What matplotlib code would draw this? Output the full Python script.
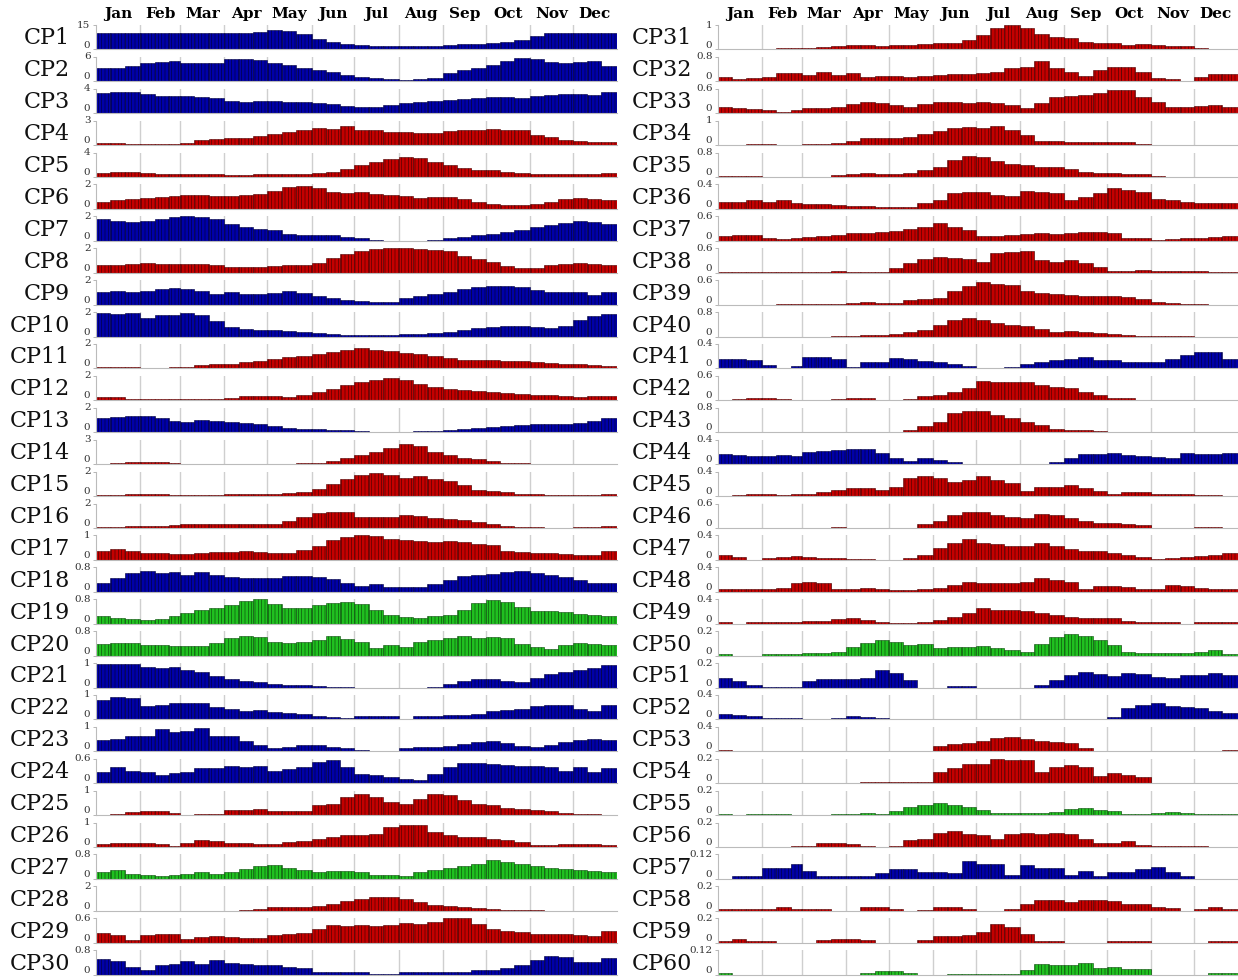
import numpy as np
import matplotlib
matplotlib.use("Agg")
import matplotlib.pyplot as plt

# three values per month (days 1-10, 11-20, 21-end)
months = ["Jan", "Feb", "Mar", "Apr", "May", "Jun", "Jul", "Aug", "Sep", "Oct", "Nov", "Dec"]
month_len = [31, 28, 31, 30, 31, 30, 31, 31, 30, 31, 30, 31]

cp01 = [10, 10, 10, 10, 10, 10, 10, 10, 10, 10, 10.2, 10.8, 12, 11.5, 9.5, 6.5, 4.5, 3.2, 2.5, 2.2, 2.0, 2.0, 2.1, 2.3, 2.8, 3.2, 3.6, 4.2, 4.8, 6, 8.5, 9.8, 10.2, 10.2, 10.1, 9.9]
cp02 = [3.2, 3.2, 3.7, 4.5, 4.8, 5.0, 4.6, 4.4, 4.6, 5.4, 5.6, 5.2, 4.6, 4.0, 3.4, 2.8, 2.2, 1.6, 1.1, 0.8, 0.6, 0.4, 0.5, 0.9, 2.0, 2.7, 3.3, 3.9, 5.0, 5.7, 5.5, 4.8, 4.6, 4.8, 4.9, 3.8]
cp03 = [3.3, 3.5, 3.4, 3.1, 2.9, 2.9, 2.8, 2.7, 2.5, 2.0, 1.8, 2.0, 2.0, 1.9, 1.9, 1.7, 1.5, 1.2, 1.0, 1.1, 1.3, 1.6, 1.8, 2.0, 2.2, 2.4, 2.5, 2.6, 2.6, 2.5, 2.9, 3.0, 3.1, 3.1, 3.0, 3.4]
cp04 = [0.3, 0.25, 0.2, 0.15, 0.15, 0.2, 0.3, 0.6, 0.75, 0.85, 0.9, 1.1, 1.4, 1.6, 1.9, 2.1, 2.0, 2.3, 1.8, 1.9, 1.6, 1.6, 1.5, 1.5, 1.7, 1.8, 1.9, 2.0, 1.9, 1.8, 1.3, 1.0, 0.6, 0.5, 0.45, 0.4]
cp05 = [0.7, 0.9, 0.8, 0.65, 0.55, 0.5, 0.5, 0.5, 0.45, 0.35, 0.4, 0.45, 0.5, 0.5, 0.5, 0.6, 0.9, 1.4, 1.9, 2.5, 3.0, 3.2, 3.1, 2.5, 1.9, 1.5, 1.2, 1.1, 0.9, 0.7, 0.5, 0.5, 0.5, 0.55, 0.55, 0.65]
cp06 = [0.6, 0.7, 0.8, 0.9, 0.95, 1.05, 1.15, 1.15, 1.1, 1.1, 1.15, 1.2, 1.5, 1.8, 1.85, 1.75, 1.4, 1.3, 1.35, 1.25, 1.15, 1.05, 0.9, 1.0, 1.0, 0.8, 0.6, 0.4, 0.35, 0.35, 0.4, 0.6, 0.8, 0.9, 0.85, 0.75]
cp07 = [1.75, 1.6, 1.55, 1.6, 1.8, 1.95, 2.0, 1.95, 1.75, 1.4, 1.15, 1.0, 0.9, 0.55, 0.45, 0.5, 0.5, 0.35, 0.2, 0.1, 0.03, 0.0, 0.02, 0.08, 0.2, 0.3, 0.45, 0.6, 0.75, 0.9, 1.1, 1.3, 1.45, 1.6, 1.55, 1.4]
cp08 = [0.6, 0.65, 0.75, 0.8, 0.7, 0.7, 0.75, 0.7, 0.6, 0.5, 0.45, 0.5, 0.55, 0.6, 0.6, 0.8, 1.2, 1.55, 1.8, 1.95, 2.0, 2.0, 1.95, 1.9, 1.8, 1.4, 1.1, 0.85, 0.55, 0.38, 0.4, 0.6, 0.75, 0.77, 0.75, 0.6]
cp09 = [1.0, 1.15, 1.05, 1.15, 1.3, 1.35, 1.25, 1.1, 0.9, 1.0, 0.85, 0.85, 0.95, 1.15, 0.95, 0.7, 0.55, 0.35, 0.3, 0.22, 0.2, 0.55, 0.75, 0.9, 1.05, 1.3, 1.45, 1.55, 1.55, 1.45, 1.2, 1.05, 1.0, 1.0, 0.8, 1.0]
cp10 = [1.95, 1.85, 1.9, 1.55, 1.75, 1.75, 1.95, 1.75, 1.3, 0.8, 0.65, 0.55, 0.5, 0.45, 0.4, 0.3, 0.2, 0.1, 0.12, 0.15, 0.17, 0.19, 0.22, 0.3, 0.4, 0.55, 0.7, 0.8, 0.9, 0.85, 0.75, 0.7, 0.9, 1.35, 1.7, 1.85]
cp11 = [0.15, 0.12, 0.1, 0.08, 0.08, 0.1, 0.14, 0.25, 0.35, 0.4, 0.5, 0.65, 0.8, 0.9, 1.0, 1.2, 1.35, 1.55, 1.65, 1.5, 1.4, 1.3, 1.2, 1.0, 0.85, 0.7, 0.68, 0.66, 0.63, 0.58, 0.5, 0.42, 0.38, 0.36, 0.3, 0.18]
cp12 = [0.3, 0.25, 0.15, 0.1, 0.1, 0.1, 0.1, 0.1, 0.12, 0.2, 0.35, 0.38, 0.38, 0.28, 0.45, 0.65, 0.95, 1.25, 1.5, 1.7, 1.85, 1.65, 1.35, 1.1, 0.95, 0.85, 0.75, 0.65, 0.6, 0.55, 0.47, 0.42, 0.35, 0.3, 0.32, 0.38]
cp13 = [1.15, 1.25, 1.3, 1.35, 1.2, 0.95, 0.85, 1.0, 0.9, 0.82, 0.75, 0.65, 0.55, 0.35, 0.28, 0.25, 0.2, 0.15, 0.1, 0.05, 0.0, 0.05, 0.08, 0.12, 0.2, 0.28, 0.38, 0.45, 0.55, 0.62, 0.68, 0.68, 0.68, 0.72, 0.9, 1.15]
cp14 = [0.08, 0.15, 0.22, 0.25, 0.25, 0.15, 0.03, 0.03, 0.03, 0.03, 0.03, 0.05, 0.08, 0.08, 0.1, 0.15, 0.35, 0.75, 1.1, 1.5, 2.0, 2.5, 2.2, 1.5, 1.1, 0.8, 0.6, 0.4, 0.2, 0.1, 0.06, 0.05, 0.05, 0.05, 0.05, 0.05]
cp15 = [0.12, 0.12, 0.15, 0.18, 0.15, 0.12, 0.1, 0.1, 0.1, 0.15, 0.15, 0.2, 0.2, 0.22, 0.3, 0.6, 0.95, 1.4, 1.7, 1.85, 1.7, 1.45, 1.65, 1.4, 1.25, 0.9, 0.5, 0.4, 0.3, 0.2, 0.15, 0.12, 0.12, 0.12, 0.12, 0.15]
cp16 = [0.12, 0.12, 0.15, 0.18, 0.2, 0.25, 0.3, 0.3, 0.32, 0.35, 0.35, 0.35, 0.3, 0.55, 0.9, 1.2, 1.3, 1.3, 0.9, 0.9, 0.92, 1.05, 0.95, 0.85, 0.72, 0.62, 0.45, 0.3, 0.18, 0.12, 0.08, 0.03, 0.02, 0.1, 0.12, 0.15]
cp17 = [0.35, 0.45, 0.35, 0.3, 0.28, 0.25, 0.25, 0.28, 0.32, 0.32, 0.36, 0.32, 0.28, 0.3, 0.4, 0.55, 0.8, 0.92, 1.02, 0.98, 0.85, 0.8, 0.76, 0.74, 0.76, 0.72, 0.64, 0.6, 0.35, 0.32, 0.3, 0.28, 0.25, 0.22, 0.2, 0.35]
cp18 = [0.3, 0.45, 0.6, 0.68, 0.62, 0.66, 0.56, 0.64, 0.55, 0.48, 0.46, 0.45, 0.45, 0.5, 0.53, 0.48, 0.42, 0.3, 0.2, 0.24, 0.17, 0.15, 0.16, 0.25, 0.4, 0.53, 0.56, 0.58, 0.64, 0.68, 0.62, 0.55, 0.47, 0.4, 0.3, 0.28]
cp19 = [0.25, 0.18, 0.14, 0.13, 0.14, 0.25, 0.35, 0.45, 0.5, 0.6, 0.74, 0.8, 0.65, 0.5, 0.52, 0.6, 0.68, 0.7, 0.63, 0.45, 0.3, 0.22, 0.2, 0.26, 0.3, 0.45, 0.68, 0.77, 0.72, 0.55, 0.42, 0.43, 0.38, 0.33, 0.28, 0.26]
cp20 = [0.38, 0.4, 0.42, 0.33, 0.33, 0.32, 0.3, 0.32, 0.42, 0.58, 0.65, 0.62, 0.44, 0.42, 0.44, 0.5, 0.64, 0.53, 0.44, 0.25, 0.33, 0.27, 0.44, 0.52, 0.58, 0.65, 0.56, 0.62, 0.56, 0.38, 0.27, 0.23, 0.33, 0.42, 0.38, 0.35]
cp21 = [0.97, 0.95, 0.95, 0.85, 0.8, 0.82, 0.7, 0.62, 0.48, 0.34, 0.27, 0.21, 0.16, 0.12, 0.1, 0.07, 0.04, 0.02, 0, 0, 0, 0, 0, 0.03, 0.14, 0.26, 0.33, 0.33, 0.27, 0.22, 0.4, 0.54, 0.64, 0.7, 0.78, 0.9]
cp22 = [0.78, 0.92, 0.88, 0.55, 0.58, 0.65, 0.68, 0.65, 0.5, 0.43, 0.36, 0.4, 0.32, 0.26, 0.21, 0.14, 0.1, 0.07, 0.15, 0.15, 0.13, 0.03, 0.12, 0.14, 0.16, 0.2, 0.22, 0.35, 0.4, 0.43, 0.56, 0.6, 0.57, 0.43, 0.36, 0.58]
cp23 = [0.46, 0.49, 0.61, 0.64, 0.91, 0.79, 0.82, 0.97, 0.64, 0.61, 0.42, 0.27, 0.15, 0.19, 0.24, 0.27, 0.19, 0.12, 0.04, 0.01, 0.01, 0.12, 0.16, 0.19, 0.22, 0.3, 0.37, 0.42, 0.34, 0.22, 0.19, 0.27, 0.37, 0.46, 0.49, 0.46]
cp24 = [0.27, 0.39, 0.29, 0.27, 0.21, 0.25, 0.27, 0.37, 0.37, 0.42, 0.39, 0.42, 0.31, 0.35, 0.39, 0.52, 0.58, 0.39, 0.22, 0.19, 0.16, 0.11, 0.07, 0.22, 0.39, 0.5, 0.49, 0.47, 0.44, 0.43, 0.42, 0.39, 0.31, 0.39, 0.27, 0.37]
cp25 = [0, 0.05, 0.12, 0.15, 0.15, 0.08, 0.01, 0.05, 0.05, 0.19, 0.22, 0.26, 0.16, 0.16, 0.16, 0.42, 0.47, 0.74, 0.88, 0.74, 0.53, 0.47, 0.67, 0.88, 0.81, 0.6, 0.47, 0.4, 0.29, 0.23, 0.19, 0.15, 0.1, 0.05, 0.03, 0]
cp26 = [0.11, 0.18, 0.18, 0.18, 0.14, 0.04, 0.18, 0.27, 0.23, 0.18, 0.18, 0.14, 0.14, 0.2, 0.23, 0.31, 0.41, 0.47, 0.47, 0.54, 0.81, 0.91, 0.91, 0.61, 0.5, 0.41, 0.41, 0.31, 0.27, 0.2, 0.09, 0.09, 0.12, 0.14, 0.11, 0.09]
cp27 = [0.23, 0.28, 0.17, 0.14, 0.1, 0.14, 0.17, 0.21, 0.17, 0.21, 0.32, 0.41, 0.45, 0.34, 0.28, 0.23, 0.25, 0.25, 0.21, 0.14, 0.12, 0.1, 0.21, 0.28, 0.36, 0.42, 0.5, 0.61, 0.55, 0.5, 0.41, 0.36, 0.32, 0.28, 0.25, 0.23]
cp28 = [0, 0, 0, 0, 0, 0, 0, 0, 0, 0, 0.05, 0.16, 0.27, 0.27, 0.3, 0.38, 0.58, 0.77, 0.99, 1.1, 1.15, 0.99, 0.71, 0.44, 0.38, 0.3, 0.22, 0.11, 0.05, 0.03, 0.03, 0, 0, 0, 0, 0]
cp29 = [0.24, 0.2, 0.06, 0.2, 0.22, 0.22, 0.1, 0.14, 0.16, 0.14, 0.11, 0.11, 0.2, 0.22, 0.24, 0.34, 0.43, 0.41, 0.43, 0.4, 0.43, 0.48, 0.47, 0.51, 0.6, 0.6, 0.47, 0.34, 0.28, 0.26, 0.22, 0.22, 0.22, 0.18, 0.16, 0.28]
cp30 = [0.52, 0.43, 0.25, 0.14, 0.3, 0.33, 0.43, 0.36, 0.47, 0.39, 0.36, 0.3, 0.3, 0.25, 0.2, 0.09, 0.07, 0.09, 0.07, 0.03, 0.03, 0.07, 0.07, 0.09, 0.09, 0.09, 0.14, 0.14, 0.2, 0.3, 0.47, 0.61, 0.58, 0.41, 0.41, 0.54]
cp31 = [0.01, 0.01, 0.01, 0.0, 0.05, 0.08, 0.08, 0.11, 0.15, 0.2, 0.18, 0.14, 0.18, 0.2, 0.22, 0.25, 0.27, 0.38, 0.59, 0.86, 1.0, 0.86, 0.63, 0.52, 0.45, 0.32, 0.27, 0.25, 0.18, 0.22, 0.18, 0.14, 0.14, 0.08, 0.03, 0.0]
cp32 = [0.15, 0.08, 0.12, 0.15, 0.26, 0.29, 0.21, 0.3, 0.21, 0.26, 0.15, 0.18, 0.18, 0.15, 0.18, 0.21, 0.23, 0.24, 0.29, 0.32, 0.43, 0.48, 0.65, 0.43, 0.32, 0.18, 0.37, 0.48, 0.46, 0.32, 0.1, 0.07, 0.02, 0.15, 0.23, 0.23]
cp33 = [0.15, 0.12, 0.1, 0.07, 0.04, 0.08, 0.12, 0.12, 0.16, 0.23, 0.28, 0.24, 0.2, 0.15, 0.22, 0.28, 0.28, 0.26, 0.28, 0.26, 0.2, 0.12, 0.24, 0.39, 0.42, 0.45, 0.5, 0.57, 0.57, 0.41, 0.28, 0.15, 0.15, 0.18, 0.2, 0.16]
cp34 = [0.01, 0.01, 0.03, 0.03, 0.0, 0.0, 0.03, 0.05, 0.08, 0.19, 0.28, 0.28, 0.28, 0.32, 0.46, 0.59, 0.69, 0.73, 0.69, 0.78, 0.62, 0.42, 0.19, 0.18, 0.15, 0.12, 0.12, 0.15, 0.12, 0.03, 0, 0.01, 0.01, 0.01, 0, 0]
cp35 = [0.05, 0.05, 0.04, 0, 0, 0, 0, 0, 0.07, 0.1, 0.14, 0.1, 0.1, 0.14, 0.23, 0.34, 0.56, 0.69, 0.67, 0.51, 0.43, 0.4, 0.34, 0.34, 0.26, 0.18, 0.14, 0.12, 0.1, 0.09, 0.03, 0.01, 0.01, 0.01, 0.01, 0.01]
cp36 = [0.12, 0.12, 0.15, 0.12, 0.15, 0.1, 0.08, 0.08, 0.07, 0.05, 0.05, 0.04, 0.04, 0.04, 0.09, 0.15, 0.26, 0.27, 0.28, 0.23, 0.21, 0.3, 0.28, 0.26, 0.15, 0.2, 0.26, 0.34, 0.31, 0.28, 0.17, 0.15, 0.12, 0.1, 0.09, 0.1]
cp37 = [0.11, 0.15, 0.15, 0.07, 0.05, 0.07, 0.09, 0.11, 0.15, 0.19, 0.2, 0.23, 0.25, 0.28, 0.35, 0.45, 0.33, 0.27, 0.11, 0.11, 0.15, 0.17, 0.19, 0.17, 0.19, 0.23, 0.23, 0.19, 0.07, 0.07, 0.02, 0.04, 0.07, 0.07, 0.09, 0.11]
cp38 = [0.02, 0.02, 0.02, 0.01, 0.01, 0.01, 0.01, 0.01, 0.04, 0.01, 0.02, 0.02, 0.11, 0.23, 0.34, 0.39, 0.37, 0.35, 0.27, 0.48, 0.52, 0.53, 0.31, 0.27, 0.31, 0.25, 0.15, 0.04, 0.04, 0.07, 0.04, 0.05, 0.05, 0.05, 0.02, 0.01]
cp39 = [0, 0, 0, 0, 0.01, 0.01, 0.01, 0.01, 0.02, 0.03, 0.06, 0.05, 0.05, 0.11, 0.14, 0.16, 0.33, 0.46, 0.55, 0.5, 0.48, 0.33, 0.28, 0.25, 0.24, 0.22, 0.22, 0.21, 0.2, 0.14, 0.06, 0.03, 0.02, 0.01, 0, 0]
cp40 = [0, 0, 0, 0, 0, 0, 0, 0, 0.01, 0.02, 0.05, 0.05, 0.08, 0.14, 0.22, 0.38, 0.54, 0.62, 0.54, 0.43, 0.38, 0.33, 0.25, 0.16, 0.18, 0.14, 0.11, 0.08, 0.05, 0.03, 0.03, 0.02, 0.01, 0, 0, 0]
cp41 = [0.15, 0.16, 0.14, 0.05, 0.01, 0.04, 0.18, 0.18, 0.16, 0.03, 0.1, 0.11, 0.17, 0.15, 0.12, 0.11, 0.07, 0.04, 0.01, 0, 0.03, 0.07, 0.11, 0.14, 0.16, 0.19, 0.14, 0.14, 0.11, 0.11, 0.1, 0.16, 0.22, 0.27, 0.27, 0.16]
cp42 = [0.02, 0.03, 0.05, 0.05, 0.03, 0, 0, 0, 0.03, 0.05, 0.05, 0.02, 0, 0.03, 0.11, 0.13, 0.21, 0.3, 0.48, 0.46, 0.46, 0.46, 0.38, 0.34, 0.31, 0.21, 0.13, 0.05, 0.05, 0.02, 0, 0, 0, 0.01, 0.01, 0.01]
cp43 = [0, 0, 0, 0, 0, 0, 0, 0, 0, 0, 0, 0, 0.02, 0.08, 0.19, 0.35, 0.62, 0.7, 0.7, 0.55, 0.46, 0.35, 0.24, 0.1, 0.08, 0.08, 0.05, 0.02, 0.01, 0, 0, 0, 0, 0, 0, 0]
cp44 = [0.16, 0.15, 0.14, 0.14, 0.15, 0.14, 0.2, 0.21, 0.23, 0.25, 0.25, 0.18, 0.1, 0.05, 0.1, 0.07, 0.03, 0.01, 0.01, 0.01, 0, 0, 0.01, 0.04, 0.1, 0.16, 0.16, 0.18, 0.15, 0.14, 0.11, 0.1, 0.18, 0.16, 0.16, 0.18]
cp45 = [0, 0.01, 0.03, 0.03, 0.02, 0.04, 0.03, 0.07, 0.1, 0.13, 0.14, 0.1, 0.15, 0.29, 0.32, 0.29, 0.23, 0.26, 0.32, 0.26, 0.21, 0.08, 0.15, 0.15, 0.18, 0.13, 0.08, 0.04, 0.06, 0.07, 0.03, 0.04, 0.04, 0.02, 0.01, 0]
cp46 = [0, 0.01, 0.01, 0, 0.01, 0, 0.01, 0.01, 0.02, 0.01, 0.01, 0, 0, 0.01, 0.1, 0.16, 0.32, 0.38, 0.4, 0.32, 0.26, 0.24, 0.34, 0.32, 0.24, 0.16, 0.13, 0.13, 0.1, 0.07, 0, 0, 0.01, 0.02, 0.02, 0.01]
cp47 = [0.08, 0.05, 0, 0.03, 0.04, 0.06, 0.04, 0.03, 0.03, 0.01, 0.01, 0, 0, 0.03, 0.08, 0.19, 0.27, 0.34, 0.28, 0.26, 0.22, 0.22, 0.27, 0.22, 0.17, 0.14, 0.14, 0.12, 0.08, 0.04, 0.01, 0.03, 0.04, 0.06, 0.08, 0.11]
cp48 = [0.05, 0.04, 0.05, 0.05, 0.07, 0.15, 0.16, 0.15, 0.04, 0.05, 0.07, 0.04, 0.03, 0.03, 0.05, 0.07, 0.11, 0.16, 0.15, 0.15, 0.14, 0.16, 0.22, 0.2, 0.16, 0.05, 0.09, 0.09, 0.08, 0.05, 0.05, 0.11, 0.09, 0.07, 0.05, 0.05]
cp49 = [0.02, 0, 0.02, 0.02, 0.03, 0.03, 0.04, 0.04, 0.07, 0.09, 0.06, 0.03, 0.01, 0.01, 0.03, 0.06, 0.11, 0.17, 0.25, 0.23, 0.22, 0.2, 0.18, 0.14, 0.11, 0.1, 0.09, 0.09, 0.05, 0.02, 0.02, 0.02, 0, 0.03, 0.03, 0.03]
cp50 = [0.014, 0, 0, 0.01, 0.01, 0.01, 0.024, 0.02, 0.03, 0.073, 0.105, 0.127, 0.114, 0.086, 0.095, 0.06, 0.073, 0.073, 0.078, 0.06, 0.046, 0.03, 0.095, 0.15, 0.173, 0.16, 0.127, 0.086, 0.03, 0.02, 0.024, 0.02, 0.02, 0.03, 0.046, 0.014]
cp51 = [0.074, 0.052, 0.02, 0.005, 0.005, 0.005, 0.052, 0.066, 0.066, 0.066, 0.074, 0.14, 0.115, 0.06, 0, 0, 0.01, 0.01, 0, 0, 0, 0, 0.02, 0.06, 0.1, 0.13, 0.11, 0.093, 0.115, 0.11, 0.088, 0.074, 0.1, 0.1, 0.115, 0.1]
cp52 = [0.09, 0.07, 0.05, 0.03, 0.02, 0.02, 0.005, 0.005, 0.02, 0.05, 0.04, 0.02, 0, 0, 0, 0, 0, 0, 0, 0, 0, 0, 0, 0, 0, 0, 0.01, 0.04, 0.18, 0.23, 0.27, 0.22, 0.21, 0.18, 0.14, 0.11]
cp53 = [0.02, 0.01, 0, 0, 0.005, 0.005, 0.005, 0.005, 0, 0.005, 0.005, 0.005, 0.005, 0.005, 0.005, 0.09, 0.12, 0.14, 0.17, 0.21, 0.23, 0.2, 0.17, 0.16, 0.13, 0.05, 0.01, 0.005, 0.005, 0.005, 0, 0.005, 0.005, 0.005, 0.005, 0.02]
cp54 = [0, 0, 0, 0, 0, 0, 0, 0, 0, 0, 0.01, 0.01, 0.01, 0.01, 0.01, 0.09, 0.12, 0.16, 0.16, 0.2, 0.19, 0.19, 0.09, 0.13, 0.15, 0.13, 0.06, 0.08, 0.065, 0.05, 0, 0, 0, 0, 0, 0]
cp55 = [0.008, 0, 0.008, 0.008, 0.008, 0, 0, 0, 0.008, 0.008, 0.014, 0.008, 0.03, 0.066, 0.085, 0.1, 0.085, 0.066, 0.04, 0.014, 0.014, 0.014, 0.02, 0.025, 0.047, 0.058, 0.04, 0.03, 0.01, 0.008, 0.016, 0.022, 0.02, 0.008, 0.008, 0.008]
cp56 = [0, 0, 0, 0, 0, 0.008, 0.008, 0.035, 0.035, 0.027, 0.008, 0, 0.008, 0.06, 0.068, 0.116, 0.127, 0.108, 0.095, 0.062, 0.108, 0.113, 0.108, 0.113, 0.108, 0.068, 0.035, 0.035, 0.046, 0.014, 0.008, 0.008, 0.008, 0.008, 0, 0]
cp57 = [0, 0.015, 0.015, 0.053, 0.053, 0.071, 0.037, 0.015, 0.015, 0.015, 0.015, 0.031, 0.05, 0.05, 0.034, 0.034, 0.031, 0.09, 0.071, 0.071, 0.018, 0.07, 0.053, 0.053, 0.021, 0.037, 0.015, 0.034, 0.034, 0.05, 0.058, 0.034, 0.015, 0, 0, 0]
cp58 = [0.011, 0.011, 0.011, 0.011, 0.027, 0.011, 0.011, 0.011, 0, 0, 0.03, 0.03, 0.011, 0, 0.01, 0.03, 0.03, 0.011, 0, 0, 0.011, 0.058, 0.085, 0.085, 0.071, 0.085, 0.085, 0.077, 0.058, 0.058, 0.03, 0.022, 0, 0.011, 0.03, 0.011]
cp59 = [0.011, 0.027, 0.011, 0.011, 0, 0, 0, 0.019, 0.033, 0.033, 0.019, 0, 0, 0, 0.019, 0.055, 0.055, 0.06, 0.088, 0.156, 0.13, 0.074, 0.011, 0.011, 0, 0, 0, 0.011, 0.011, 0.011, 0, 0, 0, 0, 0.011, 0.011]
cp60 = [0.006, 0, 0, 0, 0, 0, 0, 0, 0, 0, 0.01, 0.016, 0.016, 0.01, 0, 0, 0.005, 0.005, 0.005, 0.005, 0.005, 0.021, 0.053, 0.045, 0.045, 0.058, 0.032, 0.037, 0.029, 0.029, 0, 0, 0, 0, 0.006, 0.006]

series = [cp01, cp02, cp03, cp04, cp05, cp06, cp07, cp08, cp09, cp10,
          cp11, cp12, cp13, cp14, cp15, cp16, cp17, cp18, cp19, cp20,
          cp21, cp22, cp23, cp24, cp25, cp26, cp27, cp28, cp29, cp30,
          cp31, cp32, cp33, cp34, cp35, cp36, cp37, cp38, cp39, cp40,
          cp41, cp42, cp43, cp44, cp45, cp46, cp47, cp48, cp49, cp50,
          cp51, cp52, cp53, cp54, cp55, cp56, cp57, cp58, cp59, cp60]

ymax = [15, 6, 4, 3, 4, 2, 2, 2, 2, 2, 2, 2, 2, 3, 2, 2, 1, 0.8, 0.8, 0.8,
        1, 1, 1, 0.6, 1, 1, 0.8, 2, 0.6, 0.8,
        1, 0.8, 0.6, 1, 0.8, 0.4, 0.6, 0.6, 0.6, 0.8, 0.4, 0.6, 0.8, 0.4, 0.4,
        0.6, 0.4, 0.4, 0.4, 0.2, 0.2, 0.4, 0.4, 0.2, 0.2, 0.2, 0.12, 0.2, 0.2, 0.12]

# b = blue, r = red, g = green
kind = "bbbrrrbrbbrrbrrrrbggbbbbrrgrrb" + "rrrrrrrrrrbrrbrrrrrgbbrrgrbrrg"

fills = {"b": "#0000a8", "r": "#c40000", "g": "#20c020"}
lines = {"b": "#00003c", "r": "#4a0000", "g": "#0a4a0a"}

plt.rcParams["font.family"] = ["DejaVu Serif"]
plt.rcParams["hatch.linewidth"] = 0.45

month_start = np.concatenate([[0], np.cumsum(month_len)[:-1]])
lefts, widths = [], []
for s, n in zip(month_start, month_len):
    lefts += [s, s + 10, s + 20]
    widths += [10, 10, n - 20]
mids = month_start + np.array(month_len) / 2.0

fig = plt.figure(figsize=(12.38, 9.8), dpi=100)
W, H = 1238.0, 980.0
col_left = [96, 718]
col_width = [521, 520]

for i in range(60):
    col, row = divmod(i, 30)
    top = 25 + 31.9 * row
    ax = fig.add_axes([col_left[col] / W, 1 - (top + 24.5) / H, col_width[col] / W, 24.5 / H])
    k = kind[i]
    ax.bar(lefts, series[i], width=widths, align="edge", color=fills[k],
           edgecolor=lines[k], linewidth=0.4, hatch="|||||", zorder=2)
    ax.set_xlim(0, 365)
    ax.set_ylim(0, ymax[i])
    ax.set_xticks(month_start[1:])
    ax.set_xticklabels([])
    ax.grid(axis="x", color="#cfcfcf", linewidth=1.0, zorder=0)
    ax.set_axisbelow(True)
    ax.tick_params(axis="x", length=0, labelbottom=False)
    ax.set_yticks([0, ymax[i]])
    ax.set_yticklabels(["0", f"{ymax[i]:g}"])
    ax.tick_params(axis="y", length=2.5, width=0.6, color="#aaaaaa", labelsize=7.5,
                   labelcolor="#333333", pad=1.5)
    ylabs = ax.get_yticklabels()
    ylabs[0].set_verticalalignment("bottom")
    ylabs[1].set_verticalalignment("center")
    for side in ["top", "right"]:
        ax.spines[side].set_visible(False)
    for side in ["left", "bottom"]:
        ax.spines[side].set_color("#bbbbbb")
        ax.spines[side].set_linewidth(0.8)
    ax.text(-0.05, 0.45, f"CP{i + 1}", transform=ax.transAxes, ha="right",
            va="center", fontsize=16, color="#111111")
    if row == 0:
        ax.set_xticks(mids, labels=months, minor=True)
        ax.tick_params(axis="x", which="minor", length=0, top=True, labeltop=True,
                       bottom=False, labelbottom=False, pad=3)
        for lab in ax.get_xticklabels(minor=True):
            lab.set_fontweight("bold")
            lab.set_fontsize(11)

fig.savefig("out.png", dpi=100)
